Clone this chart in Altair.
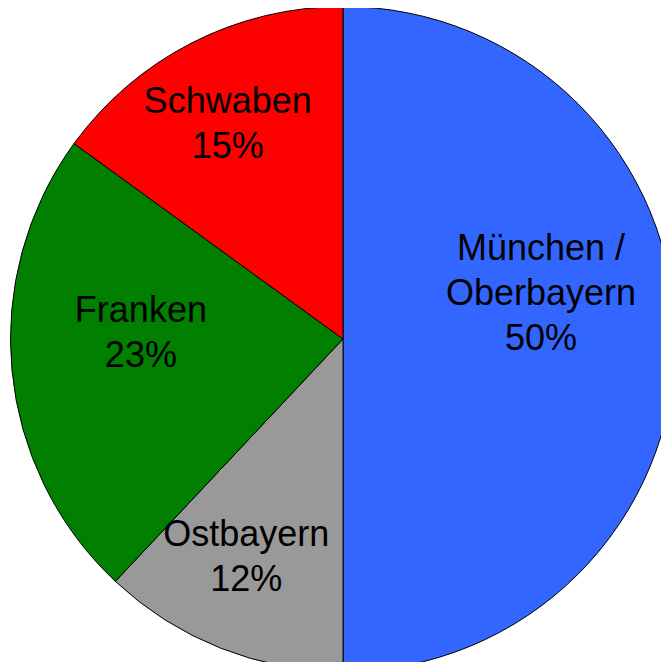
import altair as alt
import pandas as pd

regions = ["München / Oberbayern", "Ostbayern", "Franken", "Schwaben"]
shares = [50, 12, 23, 15]
labels = ["München /\nOberbayern\n50%", "Ostbayern\n12%", "Franken\n23%", "Schwaben\n15%"]
colors = ["#3366FF", "#999999", "#007F00", "#FF0000"]

df = pd.DataFrame({
    "region": regions,
    "share": shares,
    "label": labels,
    "order": list(range(len(regions))),
})

CX, CY, R = 335, 331, 332.5

base = alt.Chart(df)

pie = base.mark_arc(radius=R, stroke="black", strokeWidth=1).encode(
    theta=alt.Theta("share:Q", stack=True, scale=alt.Scale(domain=[0, 100])),
    color=alt.Color("region:N", scale=alt.Scale(domain=regions, range=colors), legend=None),
    order=alt.Order("order:Q"),
    x=alt.value(CX),
    y=alt.value(CY),
)

# label placement (radius, dx, dy) per slice
placement = {
    "München / Oberbayern": (198, 0, -90.5),
    "Ostbayern": (233, -11, -21),
    "Franken": (203, 0, -47),
    "Schwaben": (243, -5, -20),
}

text_base = base.transform_window(
    cum="sum(share)", sort=[alt.SortField("order")], frame=[None, 0]
).transform_calculate(mid="datum.cum - datum.share / 2")

layers = [pie]
for name in regions:
    r, dx, dy = placement[name]
    layers.append(
        text_base.transform_filter(alt.datum.region == name).mark_text(
            radius=r, dx=dx, dy=dy, fontSize=36, font="Liberation Sans",
            lineBreak="\n", lineHeight=45, color="black",
            align="center", baseline="middle",
        ).encode(
            theta=alt.Theta("mid:Q", stack=False, scale=alt.Scale(domain=[0, 100])),
            text="label:N",
            x=alt.value(CX),
            y=alt.value(CY),
        )
    )

chart = alt.layer(*layers).properties(
    width=653, height=654,
    autosize=alt.AutoSizeParams(type="none"),
    padding=0,
    background="white",
).configure_view(stroke=None)

chart.save("out.html", embed_options={"renderer": "svg", "actions": False})
